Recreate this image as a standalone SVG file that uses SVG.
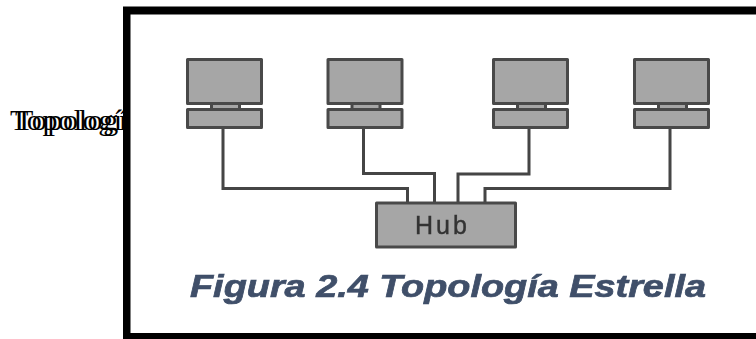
<svg xmlns="http://www.w3.org/2000/svg" width="756" height="339" viewBox="0 0 756 339">
<style>
.lead{font:30px "Liberation Serif",serif;fill:#000;letter-spacing:.6px}
.box{fill:#a6a6a6;stroke:#4a4a4a;stroke-width:3;stroke-linejoin:round}
.wire{fill:none;stroke:#444;stroke-width:3}
.hub{font:25px "Liberation Sans",Arial,sans-serif;fill:#333;letter-spacing:3px;stroke:#333;stroke-width:.4}
.cap{font:italic 700 32px "Liberation Sans",Arial,sans-serif;fill:#3f4f69;stroke:#3f4f69;stroke-width:.7}
</style>
<defs>
<filter id="soft" x="-5%" y="-5%" width="110%" height="110%"><feGaussianBlur stdDeviation="0.6"/></filter>
<g id="pc"><rect class="box" x="0" y="0" width="74" height="44"/><rect class="box" x="24" y="44" width="28" height="6"/><rect class="box" x="0" y="50" width="74" height="18"/></g>
</defs>
<rect width="756" height="339" fill="#fff"/>
<g id="lead-text">
<text class="lead" x="10" y="130">Topología</text>
<text class="lead" x="15" y="130">Topología</text>
</g>
<rect id="frame" x="123" y="6.5" width="640" height="340" fill="#000"/>
<rect x="130.5" y="14.5" width="630" height="318.5" fill="#fff"/>
<g filter="url(#soft)">
<g id="connectors">
<path class="wire" d="M223 128V188.5H407.5V203"/>
<path class="wire" d="M363.5 128V173.5H434.5V203"/>
<path class="wire" d="M529 128V174H458V203"/>
<path class="wire" d="M670 128V188.5H485V203"/>
</g>
<g id="pc1"><use href="#pc" x="187.5" y="59.5"/></g>
<g id="pc2"><use href="#pc" x="328" y="59.5"/></g>
<g id="pc3"><use href="#pc" x="493.5" y="59.5"/></g>
<g id="pc4"><use href="#pc" x="634.5" y="59.5"/></g>
<g id="hub"><rect class="box" x="376.5" y="203" width="139" height="44"/><text class="hub" x="415" y="234">Hub</text></g>
<text id="caption" class="cap" x="190" y="297" textLength="516" lengthAdjust="spacingAndGlyphs">Figura 2.4 Topología Estrella</text>
</g>
</svg>
